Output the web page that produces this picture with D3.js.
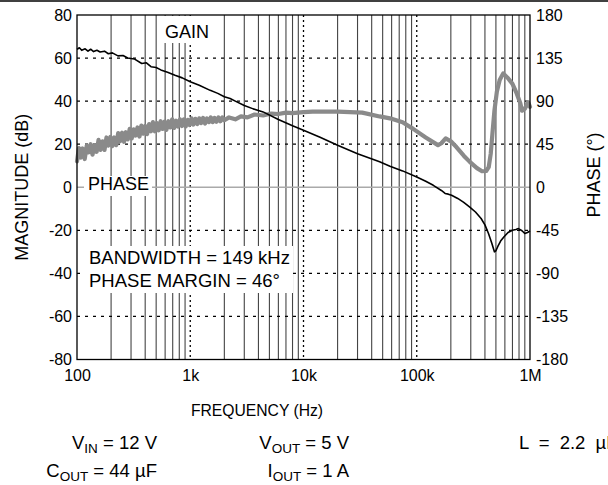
<!DOCTYPE html>
<html><head><meta charset="utf-8">
<script src="https://cdn.jsdelivr.net/npm/d3@7"></script>
<style>
html,body{margin:0;padding:0;background:#fff;}
svg text{font-family:"Liberation Sans",Arial,sans-serif;fill:#000;}
</style></head>
<body><svg id="chart" width="608" height="485"></svg>
<script>
// ---- data ----
const xTickValues = [100, 1000, 10000, 100000, 1000000];
const xTickLabels = ["100", "1k", "10k", "100k", "1M"];
const yLeftTicks = [80, 60, 40, 20, 0, -20, -40, -60, -80];
const yRightTicks = [180, 135, 90, 45, 0, -45, -90, -135, -180];

const gainFreq = [100,105,110,118,125,132,140,150,160,175,189,205,230,255,280,320,373,410,450,500,550,630,733,850,1000,1200,1500,1750,2000,2250,2500,3000,3600,4400,6000,8000,10000,14000,20000,30000,47000,58000,75000,100000,120000,140000,165000,178000,190000,203000,230000,260000,294000,330000,370000,400000,430000,460000,485000,500000,520000,550000,590000,640000,700000,750000,790000,850000,900000,950000,1000000];
const gainDb   = [64,64.8,63.6,64.3,63.2,64.1,63,63.6,62.8,63.2,62,62.4,61,61.2,60,59.6,57.5,57.8,56,55.6,54.5,53.4,52,50.8,49,47.4,45,43.6,42,41.2,40,38,36.4,35,31.5,28.6,26.5,23.2,19.5,15.6,11.8,9.8,7.6,4.8,2.8,0.9,-1.5,-2.9,-3.2,-3.7,-5.2,-7,-9.2,-11.5,-14.5,-17.5,-21.5,-26,-30,-29.5,-27.5,-25,-23,-21,-20,-19.6,-19.2,-20.2,-21.5,-21,-20.3];

const phaseFreq = [100,104,108,112,117,122,127,132,137,143,149,155,161,168,175,182,189,197,205,213,222,231,240,250,260,270,281,292,304,316,329,342,356,370,385,400,416,433,450,468,487,506,527,548,570,593,616,641,667,693,721,750,780,811,844,877,912,949,987,1026,1067,1110,1155,1201,1249,1299,1351,1405,1461,1519,1580,1643,1709,1777,1848,1922,2000,2200,2500,2800,3200,3700,4400,5200,6000,7000,8000,10000,12000,20000,33000,47000,58000,75000,93000,120000,154000,165000,180000,200000,224000,260000,294000,340000,377000,410000,432000,450000,465000,485000,510000,540000,580000,640000,700000,763000,820000,850000,900000,960000,1000000];
const phaseDeg  = [27,41,31,40.5,29.5,43.5,36.5,45,34,44,37,49.5,39,48,39,52,43.5,52.5,43,52,44,56.5,48,57,47.5,57.5,50,61,51,60.5,54,62.5,53,64.5,56,64,55.5,66,58.5,68,58.5,67,59.5,69,61,68.5,60,69,62.5,71,62,69.5,63.5,71,64,71,63.5,70.5,65,72,65.5,71.5,66,72,67,72.5,66.5,72,68,73,68,72.5,68.5,73,69,73,70,73,71,74,73,76,75,77,76.5,78,77.5,78.5,79,79,78,74,72,68,61,52,44,46,51,48,42,33,26.5,20,16.7,17,21,35,55,80,100,112,119,114,108,98,88,80,82,89,84];

// ---- layout ----
const svg = d3.select("#chart");
const L = 77, R = 530, T = 15, B = 359.5;
const x = d3.scaleLog().domain([100, 1e6]).range([L, R]);
const yL = d3.scaleLinear().domain([-80, 80]).range([B, T]);
const yR = d3.scaleLinear().domain([-180, 180]).range([B, T]);
const FONT = "Liberation Sans, Arial, sans-serif";

// top rule
svg.append("line").attr("x1",0).attr("x2",608).attr("y1",1).attr("y2",1)
  .attr("stroke","#000").attr("stroke-width",1.5);

// vertical grid (minor solid, decade dotted)
const minors = [];
for (let d = 100; d < 1e6; d *= 10) for (let m = 2; m <= 9; m++) minors.push(d*m);
svg.append("g").selectAll("line").data(minors).join("line")
  .attr("x1", d=>x(d)).attr("x2", d=>x(d)).attr("y1", T).attr("y2", B)
  .attr("stroke","#444").attr("stroke-width",1.1);
svg.append("g").selectAll("line").data([1000,10000,100000]).join("line")
  .attr("x1", d=>x(d)).attr("x2", d=>x(d)).attr("y1", T).attr("y2", B)
  .attr("stroke","#000").attr("stroke-width",1.3).attr("stroke-dasharray","2,3");

// horizontal grid
svg.append("g").selectAll("line").data([60,40,20,-20,-40,-60]).join("line")
  .attr("x1", L).attr("x2", R).attr("y1", d=>yL(d)).attr("y2", d=>yL(d))
  .attr("stroke","#000").attr("stroke-width",1.2).attr("stroke-dasharray","3,5");
svg.append("line").attr("x1",L).attr("x2",R).attr("y1",yL(0)).attr("y2",yL(0))
  .attr("stroke","#aaa").attr("stroke-width",1.5);

// label boxes (white backgrounds)
function box(x0,y0,x1,y1){ svg.append("rect").attr("x",x0).attr("y",y0).attr("width",x1-x0).attr("height",y1-y0).attr("fill","#fff"); }
box(162, T+1, 214, 43);
box(84, 176, 152, 196);
box(84, 246, 293, 293);

// curves
const line = d3.line().curve(d3.curveLinear);
svg.append("path")
  .attr("d", line(phaseFreq.map((f,i)=>[x(f), yR(phaseDeg[i])])))
  .attr("fill","none").attr("stroke","#8a8a8a").attr("stroke-width",4.2)
  .attr("stroke-linejoin","round").attr("stroke-linecap","round");
svg.append("path")
  .attr("d", line(gainFreq.map((f,i)=>[x(f), yL(gainDb[i])])))
  .attr("fill","none").attr("stroke","#000").attr("stroke-width",1.6)
  .attr("stroke-linejoin","round");

// frame
svg.append("rect").attr("x",L).attr("y",T).attr("width",R-L).attr("height",B-T)
  .attr("fill","none").attr("stroke","#000").attr("stroke-width",1.3);

// axes
const fs = 16;
const ax = svg.append("g").attr("transform",`translate(0,${B})`)
  .call(d3.axisBottom(x).tickValues(xTickValues).tickFormat((d,i)=>xTickLabels[i]).tickSize(0).tickPadding(10));
ax.select(".domain").remove();
ax.selectAll("text").attr("font-size",fs).attr("font-family",FONT).attr("fill","#000");

const al = svg.append("g").attr("transform",`translate(${L},0)`)
  .call(d3.axisLeft(yL).tickValues(yLeftTicks).tickFormat(d=>String(d)).tickSize(0).tickPadding(5));
al.select(".domain").remove();
al.selectAll("text").attr("font-size",fs).attr("font-family",FONT).attr("fill","#000");

const ar = svg.append("g").attr("transform",`translate(${R},0)`)
  .call(d3.axisRight(yR).tickValues(yRightTicks).tickFormat(d=>String(d)).tickSize(0).tickPadding(6));
ar.select(".domain").remove();
ar.selectAll("text").attr("font-size",fs).attr("font-family",FONT).attr("fill","#000");

// axis titles
svg.append("text").attr("transform",`translate(28,${(T+B)/2}) rotate(-90)`)
  .attr("text-anchor","middle").attr("font-size",18).text("MAGNITUDE (dB)");
svg.append("text").attr("transform",`translate(600,175) rotate(-90)`)
  .attr("text-anchor","middle").attr("font-size",18).text("PHASE (°)");
svg.append("text").attr("x",257).attr("y",416).attr("text-anchor","middle")
  .attr("font-size",15.7).text("FREQUENCY (Hz)");

// in-plot labels
svg.append("text").attr("x",165).attr("y",38).attr("font-size",18).text("GAIN");
svg.append("text").attr("x",88).attr("y",190).attr("font-size",18).text("PHASE");
svg.append("text").attr("x",89).attr("y",264).attr("font-size",18.5).text("BANDWIDTH = 149 kHz");
svg.append("text").attr("x",89).attr("y",287).attr("font-size",18.5).text("PHASE MARGIN = 46°");

// conditions
function cond(xp, yp, anchor, main, sub, rest){
  const t = svg.append("text").attr("x",xp).attr("y",yp).attr("text-anchor",anchor).attr("font-size",18.5);
  t.append("tspan").text(main);
  if (sub) t.append("tspan").attr("font-size",13.5).attr("dy",4).text(sub);
  t.append("tspan").attr("dy", sub ? -4 : 0).text(rest);
  return t;
}
cond(157, 449, "end", "V", "IN", " = 12 V");
cond(349, 449, "end", "V", "OUT", " = 5 V");
cond(519, 449, "start", "L = 2.2 µH", null, "").attr("word-spacing", 5);
cond(157, 477, "end", "C", "OUT", " = 44 µF");
cond(349, 477, "end", "I", "OUT", " = 1 A");
</script></body></html>
